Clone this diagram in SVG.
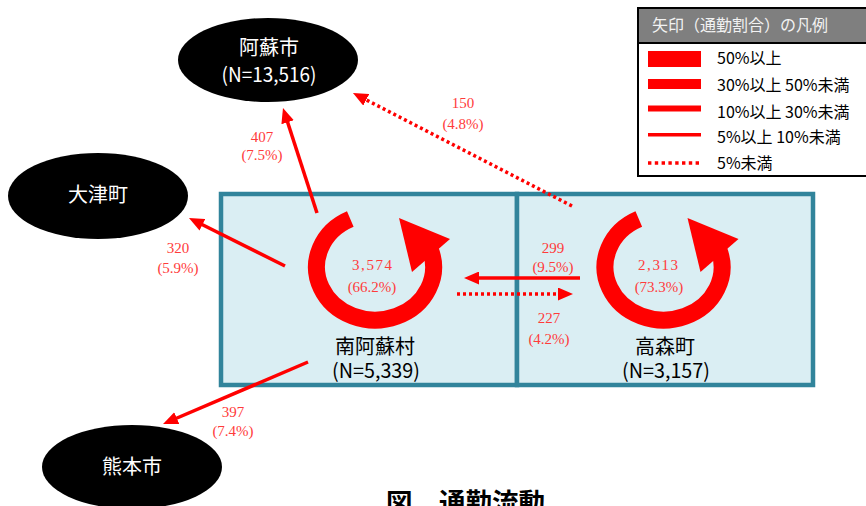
<svg xmlns="http://www.w3.org/2000/svg" width="866" height="506" viewBox="0 0 866 506">
<defs>
<marker id="ah" markerUnits="userSpaceOnUse" viewBox="0 0 15 13" markerWidth="15" markerHeight="13" refX="1" refY="6.5" orient="auto"><path d="M0,0 L15,6.5 L0,13 z" fill="#ff0000"/></marker>
<style>
.box{fill:#DAEEF3;stroke:#31849B;stroke-width:4.5}
.ell{fill:#000}
.nw{font-family:'Noto Sans CJK JP',sans-serif;font-size:20px;fill:#fff;text-anchor:middle}
.nb{font-family:'Noto Sans CJK JP',sans-serif;font-size:20px;fill:#000;text-anchor:middle}
.lbl{font-family:'Liberation Serif','Noto Sans CJK JP',serif;font-size:15px;fill:#ff3b3b;text-anchor:middle}
.ln{stroke:#ff0000;stroke-width:3.5;fill:none;marker-end:url(#ah)}
.dot{stroke-dasharray:3 3}
.ring{stroke:#ff0000;stroke-width:17;fill:none}
.head{fill:#ff0000}
.lg{font-family:'Noto Sans CJK JP',sans-serif;font-size:16px;fill:#000}
.lgh{font-family:'Noto Sans CJK JP',sans-serif;font-size:16px;fill:#f2f2f2}
</style>
</defs>
<rect width="866" height="506" fill="#fff"/>

<g id="node-minamiaso">
<rect class="box" x="221" y="194" width="296" height="191"/>
<text class="nb" x="375" y="354">南阿蘇村</text>
<text class="nb" x="376" y="378" font-size="19" textLength="88" lengthAdjust="spacingAndGlyphs">(N=5,339)</text>
</g>
<g id="node-takamori">
<rect class="box" x="517" y="194" width="296" height="191"/>
<text class="nb" x="665" y="354">高森町</text>
<text class="nb" x="666" y="378" font-size="19" textLength="88" lengthAdjust="spacingAndGlyphs">(N=3,157)</text>
</g>
<g id="node-aso">
<ellipse class="ell" cx="268" cy="60" rx="90" ry="42"/>
<text class="nw" x="269" y="55">阿蘇市</text>
<text class="nw" x="269" y="82" font-size="19" textLength="95" lengthAdjust="spacingAndGlyphs">(N=13,516)</text>
</g>
<g id="node-ozu">
<ellipse class="ell" cx="98" cy="196" rx="90" ry="43"/>
<text class="nw" x="98" y="202">大津町</text>
</g>
<g id="node-kumamoto">
<ellipse class="ell" cx="132" cy="467" rx="90" ry="42"/>
<text class="nw" x="132" y="474">熊本市</text>
</g>

<g id="connectors">
<path class="ring" d="M350.3,219 A58.5,53 0 1 0 430,248.9"/>
<polygon class="head" points="399,218 450,239 412,272"/>
<path class="ring" d="M638.8,219 A58.5,53 0 1 0 718.5,248.9"/>
<polygon class="head" points="687.5,218 738.5,239 700.5,272"/>
<path class="ln" d="M317,213 L287.3,121.3"/>
<path class="ln" d="M285,266 L201.5,224.3"/>
<path class="ln" d="M308,362 L175.9,418.5"/>
<path class="ln dot" d="M572,206 L365.4,99.4"/>
<path class="ln" d="M580,278 L478,278"/>
<path class="ln dot" d="M457,294 L559,294"/>
<text class="lbl" x="372" y="270" textLength="40">3,574</text>
<text class="lbl" x="372" y="292">(66.2%)</text>
<text class="lbl" x="658" y="270" textLength="40">2,313</text>
<text class="lbl" x="659" y="292">(73.3%)</text>
<text class="lbl" x="262" y="142">407</text>
<text class="lbl" x="262" y="160">(7.5%)</text>
<text class="lbl" x="178" y="253">320</text>
<text class="lbl" x="178" y="273">(5.9%)</text>
<text class="lbl" x="233" y="417">397</text>
<text class="lbl" x="233" y="436">(7.4%)</text>
<text class="lbl" x="463" y="108">150</text>
<text class="lbl" x="463" y="129">(4.8%)</text>
<text class="lbl" x="553" y="253">299</text>
<text class="lbl" x="553" y="272">(9.5%)</text>
<text class="lbl" x="549" y="323">227</text>
<text class="lbl" x="549" y="344">(4.2%)</text>
</g>

<g id="legend">
<rect x="638" y="8" width="240" height="168" fill="#fff" stroke="#000" stroke-width="2"/>
<rect x="638" y="8" width="240" height="35" fill="#7f7f7f" stroke="#000" stroke-width="2"/>
<text class="lgh" x="652" y="31">矢印（通勤割合）の凡例</text>
<rect x="648" y="51" width="53" height="16" fill="#ff0000"/>
<rect x="648" y="79" width="53" height="10" fill="#ff0000"/>
<rect x="648" y="105.5" width="53" height="6" fill="#ff0000"/>
<rect x="648" y="133" width="53" height="3.5" fill="#ff0000"/>
<line x1="648" y1="163" x2="702" y2="163" stroke="#ff0000" stroke-width="3.5" stroke-dasharray="3.4 3.4"/>
<text class="lg" x="717" y="64">50%以上</text>
<text class="lg" x="717" y="91">30%以上 50%未満</text>
<text class="lg" x="717" y="118">10%以上 30%未満</text>
<text class="lg" x="717" y="143">5%以上 10%未満</text>
<text class="lg" x="717" y="169">5%未満</text>
</g>

<g id="title">
<text x="386" y="512" font-family="'Noto Sans CJK JP',sans-serif" font-size="26.5" font-weight="bold" fill="#000">図　通勤流動</text>
</g>
</svg>
